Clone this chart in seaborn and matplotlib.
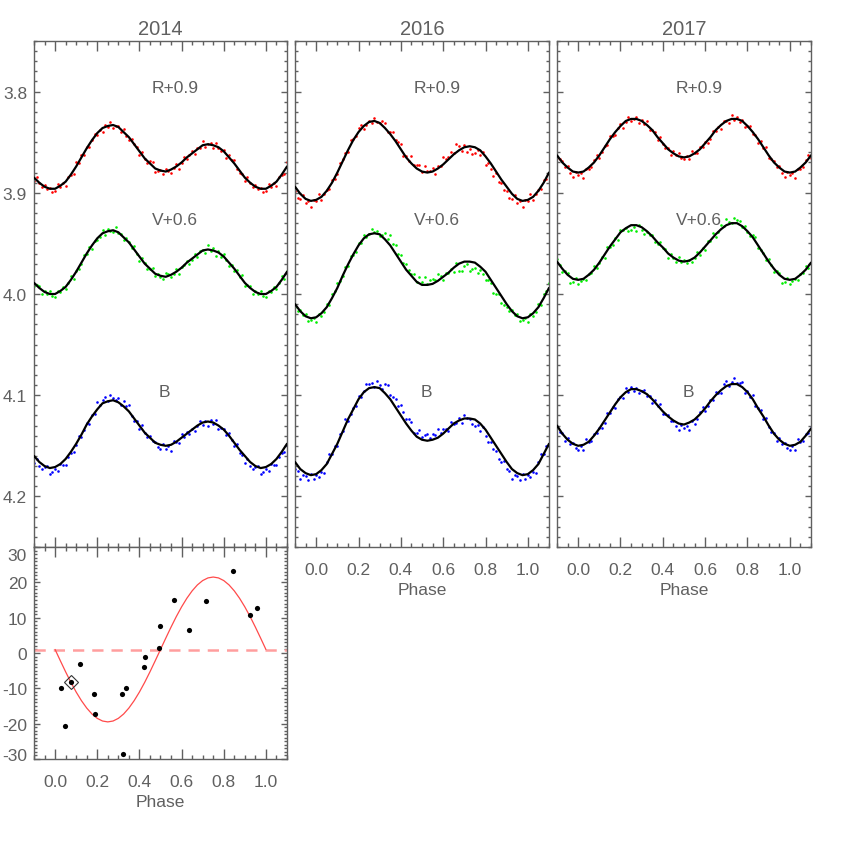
import numpy as np
import pandas as pd
import matplotlib
matplotlib.use("Agg")
import matplotlib.pyplot as plt
import seaborn as sns
from matplotlib.ticker import MultipleLocator, FormatStrFormatter
from matplotlib.transforms import offset_copy

# ---------------- data ----------------
YEARS = ["2014", "2016", "2017"]
BAND_LABELS = ["R+0.9", "V+0.6", "B"]

CURVE_PHASE = [0.000, 0.025, 0.050, 0.075, 0.100, 0.125, 0.150, 0.175, 0.200, 0.225,
               0.250, 0.275, 0.300, 0.325, 0.350, 0.375, 0.400, 0.425, 0.450, 0.475,
               0.500, 0.525, 0.550, 0.575, 0.600, 0.625, 0.650, 0.675, 0.700, 0.725,
               0.750, 0.775, 0.800, 0.825, 0.850, 0.875, 0.900, 0.925, 0.950, 0.975]

OBS_PHASE = [0.0000, 0.0125, 0.0250, 0.0375, 0.0500, 0.0625, 0.0750, 0.0875, 0.1000, 0.1125,
             0.1250, 0.1375, 0.1500, 0.1625, 0.1750, 0.1875, 0.2000, 0.2125, 0.2250, 0.2375,
             0.2500, 0.2625, 0.2750, 0.2875, 0.3000, 0.3125, 0.3250, 0.3375, 0.3500, 0.3625,
             0.3750, 0.3875, 0.4000, 0.4125, 0.4250, 0.4375, 0.4500, 0.4625, 0.4750, 0.4875,
             0.5000, 0.5125, 0.5250, 0.5375, 0.5500, 0.5625, 0.5750, 0.5875, 0.6000, 0.6125,
             0.6250, 0.6375, 0.6500, 0.6625, 0.6750, 0.6875, 0.7000, 0.7125, 0.7250, 0.7375,
             0.7500, 0.7625, 0.7750, 0.7875, 0.8000, 0.8125, 0.8250, 0.8375, 0.8500, 0.8625,
             0.8750, 0.8875, 0.9000, 0.9125, 0.9250, 0.9375, 0.9500, 0.9625, 0.9750, 0.9875]

# fitted light curves (magnitudes, offsets included)
FIT_R_2014 = [3.896, 3.893, 3.889, 3.882, 3.874, 3.865, 3.856, 3.848, 3.841, 3.836,
              3.834, 3.833, 3.835, 3.840, 3.845, 3.852, 3.859, 3.866, 3.871, 3.876,
              3.878, 3.879, 3.877, 3.874, 3.870, 3.865, 3.861, 3.857, 3.853, 3.852,
              3.853, 3.855, 3.859, 3.865, 3.871, 3.878, 3.885, 3.890, 3.894, 3.896]
FIT_V_2014 = [4.000, 3.997, 3.993, 3.986, 3.978, 3.969, 3.960, 3.952, 3.945, 3.940,
              3.938, 3.937, 3.939, 3.944, 3.949, 3.956, 3.963, 3.970, 3.975, 3.980,
              3.982, 3.983, 3.981, 3.978, 3.974, 3.969, 3.965, 3.961, 3.957, 3.956,
              3.957, 3.959, 3.963, 3.969, 3.975, 3.982, 3.989, 3.994, 3.998, 4.000]
FIT_B_2014 = [4.171, 4.168, 4.163, 4.156, 4.148, 4.139, 4.129, 4.121, 4.114, 4.108,
              4.106, 4.105, 4.107, 4.111, 4.116, 4.123, 4.130, 4.137, 4.142, 4.147,
              4.149, 4.150, 4.149, 4.146, 4.142, 4.138, 4.134, 4.130, 4.127, 4.126,
              4.127, 4.130, 4.134, 4.140, 4.147, 4.154, 4.160, 4.166, 4.170, 4.172]
FIT_R_2016 = [3.907, 3.904, 3.898, 3.890, 3.880, 3.869, 3.858, 3.848, 3.840, 3.834,
              3.830, 3.829, 3.831, 3.836, 3.842, 3.849, 3.857, 3.865, 3.871, 3.876,
              3.879, 3.880, 3.879, 3.876, 3.872, 3.867, 3.862, 3.858, 3.855, 3.854,
              3.855, 3.858, 3.864, 3.871, 3.879, 3.887, 3.894, 3.901, 3.906, 3.908]
FIT_V_2016 = [4.023, 4.019, 4.013, 4.004, 3.994, 3.982, 3.971, 3.961, 3.952, 3.945,
              3.941, 3.940, 3.941, 3.946, 3.952, 3.960, 3.968, 3.976, 3.982, 3.988,
              3.991, 3.991, 3.990, 3.987, 3.983, 3.979, 3.974, 3.970, 3.968, 3.968,
              3.969, 3.973, 3.978, 3.986, 3.994, 4.002, 4.010, 4.017, 4.022, 4.024]
FIT_B_2016 = [4.178, 4.174, 4.168, 4.158, 4.148, 4.136, 4.124, 4.114, 4.104, 4.097,
              4.093, 4.092, 4.093, 4.098, 4.104, 4.112, 4.120, 4.128, 4.135, 4.141,
              4.144, 4.145, 4.144, 4.142, 4.138, 4.133, 4.128, 4.125, 4.123, 4.123,
              4.124, 4.128, 4.134, 4.142, 4.150, 4.158, 4.166, 4.173, 4.177, 4.179]
FIT_R_2017 = [3.880, 3.879, 3.875, 3.870, 3.863, 3.855, 3.847, 3.840, 3.834, 3.829,
              3.827, 3.827, 3.829, 3.833, 3.838, 3.845, 3.851, 3.857, 3.861, 3.864,
              3.865, 3.864, 3.861, 3.857, 3.851, 3.845, 3.838, 3.833, 3.829, 3.827,
              3.827, 3.829, 3.834, 3.840, 3.847, 3.855, 3.863, 3.870, 3.875, 3.879]
FIT_V_2017 = [3.986, 3.985, 3.981, 3.976, 3.969, 3.961, 3.953, 3.946, 3.939, 3.935,
              3.932, 3.932, 3.934, 3.938, 3.943, 3.949, 3.954, 3.960, 3.964, 3.967,
              3.968, 3.967, 3.964, 3.959, 3.953, 3.947, 3.941, 3.936, 3.932, 3.930,
              3.930, 3.933, 3.938, 3.944, 3.952, 3.960, 3.968, 3.975, 3.981, 3.985]
FIT_B_2017 = [4.150, 4.149, 4.146, 4.140, 4.133, 4.125, 4.117, 4.109, 4.102, 4.097,
              4.094, 4.094, 4.096, 4.099, 4.104, 4.110, 4.116, 4.121, 4.125, 4.128,
              4.129, 4.127, 4.124, 4.119, 4.113, 4.106, 4.100, 4.095, 4.091, 4.089,
              4.089, 4.092, 4.097, 4.104, 4.113, 4.121, 4.130, 4.138, 4.144, 4.148]

# observed photometry (magnitudes, offsets included)
OBS_R_2014 = [3.898, 3.891, 3.894, 3.890, 3.893, 3.884, 3.882, 3.881, 3.870, 3.871,
              3.863, 3.863, 3.855, 3.855, 3.848, 3.842, 3.843, 3.838, 3.840, 3.833,
              3.835, 3.830, 3.836, 3.834, 3.834, 3.840, 3.837, 3.844, 3.848, 3.847,
              3.852, 3.855, 3.863, 3.860, 3.867, 3.871, 3.869, 3.870, 3.879, 3.878,
              3.877, 3.881, 3.876, 3.878, 3.880, 3.875, 3.872, 3.876, 3.871, 3.865,
              3.867, 3.863, 3.859, 3.862, 3.856, 3.856, 3.849, 3.855, 3.852, 3.851,
              3.856, 3.851, 3.856, 3.859, 3.858, 3.866, 3.863, 3.868, 3.868, 3.876,
              3.880, 3.881, 3.888, 3.884, 3.890, 3.894, 3.892, 3.896, 3.895, 3.899]
OBS_V_2014 = [4.003, 3.9975, 3.998, 3.993, 3.995, 3.9895, 3.982, 3.985, 3.977, 3.9755,
              3.970, 3.9615, 3.960, 3.954, 3.956, 3.9475, 3.947, 3.9435, 3.937, 3.942,
              3.936, 3.9375, 3.939, 3.934, 3.940, 3.9405, 3.947, 3.9445, 3.949, 3.9545,
              3.953, 3.9605, 3.967, 3.9645, 3.969, 3.9755, 3.975, 3.9745, 3.982, 3.980,
              3.983, 3.9855, 3.979, 3.980, 3.983, 3.9805, 3.975, 3.980, 3.973, 3.9715,
              3.967, 3.970, 3.966, 3.960, 3.963, 3.958, 3.957, 3.9595, 3.952, 3.9575,
              3.955, 3.962, 3.958, 3.963, 3.960, 3.966, 3.972, 3.971, 3.977, 3.9765,
              3.983, 3.9815, 3.992, 3.9915, 3.992, 4.000, 3.997, 4.000, 3.997, 4.002]
OBS_B_2014 = [4.173, 4.1745, 4.168, 4.1685, 4.169, 4.1615, 4.157, 4.156, 4.149, 4.1405,
              4.141, 4.134, 4.127, 4.128, 4.120, 4.1185, 4.107, 4.110, 4.105, 4.102,
              4.106, 4.0995, 4.103, 4.105, 4.103, 4.110, 4.106, 4.1105, 4.110, 4.1205,
              4.125, 4.1255, 4.133, 4.1295, 4.137, 4.1415, 4.140, 4.1455, 4.146, 4.151,
              4.153, 4.1485, 4.153, 4.1505, 4.155, 4.1455, 4.146, 4.147, 4.138, 4.141,
              4.136, 4.138, 4.133, 4.135, 4.130, 4.1255, 4.129, 4.1255, 4.130, 4.1245,
              4.128, 4.1245, 4.133, 4.132, 4.133, 4.139, 4.137, 4.1445, 4.150, 4.1485,
              4.157, 4.159, 4.167, 4.163, 4.170, 4.173, 4.171, 4.170, 4.178, 4.1755]
OBS_R_2016 = [3.908, 3.9015, 3.907, 3.901, 3.897, 3.896, 3.887, 3.886, 3.881, 3.8705,
              3.867, 3.8605, 3.860, 3.848, 3.847, 3.844, 3.836, 3.833, 3.837, 3.833,
              3.829, 3.8315, 3.826, 3.830, 3.831, 3.8295, 3.831, 3.840, 3.840, 3.8395,
              3.848, 3.850, 3.852, 3.864, 3.864, 3.869, 3.864, 3.8725, 3.873, 3.8725,
              3.879, 3.8735, 3.878, 3.8785, 3.875, 3.8815, 3.874, 3.874, 3.865, 3.8665,
              3.865, 3.8595, 3.861, 3.852, 3.854, 3.8585, 3.853, 3.8595, 3.857, 3.8615,
              3.861, 3.8575, 3.863, 3.860, 3.873, 3.8705, 3.876, 3.883, 3.880, 3.889,
              3.890, 3.8975, 3.898, 3.9055, 3.906, 3.9025, 3.910, 3.908, 3.914, 3.9075]
OBS_V_2016 = [4.028, 4.020, 4.022, 4.018, 4.010, 4.0105, 4.000, 3.997, 3.989, 3.987,
              3.982, 3.9735, 3.972, 3.962, 3.961, 3.9585, 3.950, 3.9495, 3.942, 3.944,
              3.941, 3.9355, 3.939, 3.9375, 3.943, 3.9415, 3.940, 3.946, 3.942, 3.951,
              3.952, 3.960, 3.961, 3.969, 3.970, 3.976, 3.980, 3.980, 3.988, 3.9835,
              3.988, 3.983, 3.990, 3.9865, 3.985, 3.9865, 3.980, 3.982, 3.986, 3.979,
              3.979, 3.9755, 3.978, 3.969, 3.977, 3.977, 3.972, 3.970, 3.977, 3.9755,
              3.974, 3.979, 3.976, 3.9805, 3.986, 3.986, 3.989, 3.999, 4.000, 4.000,
              4.009, 4.011, 4.013, 4.0165, 4.016, 4.0205, 4.020, 4.027, 4.026, 4.0235]
OBS_B_2016 = [4.179, 4.181, 4.176, 4.177, 4.166, 4.158, 4.158, 4.150, 4.150, 4.138,
              4.135, 4.124, 4.125, 4.119, 4.113, 4.111, 4.101, 4.1015, 4.096, 4.089,
              4.089, 4.0875, 4.092, 4.0855, 4.090, 4.0935, 4.089, 4.090, 4.100, 4.102,
              4.104, 4.111, 4.110, 4.117, 4.124, 4.1235, 4.126, 4.137, 4.137, 4.1345,
              4.141, 4.1395, 4.138, 4.1425, 4.138, 4.139, 4.133, 4.137, 4.133, 4.1335,
              4.135, 4.1265, 4.128, 4.1275, 4.123, 4.127, 4.120, 4.123, 4.124, 4.1285,
              4.130, 4.129, 4.135, 4.131, 4.140, 4.146, 4.146, 4.153, 4.155, 4.163,
              4.166, 4.165, 4.173, 4.1745, 4.183, 4.179, 4.180, 4.184, 4.178, 4.1825]
OBS_R_2017 = [3.882, 3.8805, 3.885, 3.876, 3.876, 3.8745, 3.868, 3.8625, 3.866, 3.860,
              3.854, 3.853, 3.844, 3.8435, 3.843, 3.836, 3.832, 3.8355, 3.830, 3.825,
              3.829, 3.827, 3.825, 3.831, 3.828, 3.832, 3.829, 3.8375, 3.838, 3.8395,
              3.848, 3.845, 3.852, 3.856, 3.856, 3.863, 3.859, 3.8625, 3.861, 3.8655,
              3.867, 3.8635, 3.867, 3.8585, 3.861, 3.861, 3.855, 3.855, 3.850, 3.851,
              3.847, 3.8385, 3.839, 3.8345, 3.837, 3.829, 3.829, 3.831, 3.823, 3.828,
              3.825, 3.830, 3.828, 3.8345, 3.834, 3.834, 3.842, 3.8425, 3.851, 3.849,
              3.856, 3.855, 3.866, 3.8665, 3.869, 3.8745, 3.874, 3.880, 3.884, 3.8795]
OBS_V_2017 = [3.990, 3.9875, 3.985, 3.986, 3.980, 3.9795, 3.972, 3.9745, 3.969, 3.963,
              3.964, 3.954, 3.954, 3.9515, 3.945, 3.9465, 3.937, 3.937, 3.935, 3.9375,
              3.937, 3.934, 3.938, 3.932, 3.937, 3.941, 3.939, 3.9415, 3.942, 3.949,
              3.951, 3.9485, 3.955, 3.956, 3.964, 3.960, 3.964, 3.9685, 3.963, 3.9685,
              3.966, 3.9695, 3.966, 3.9685, 3.964, 3.9585, 3.961, 3.955, 3.957, 3.948,
              3.948, 3.940, 3.944, 3.9385, 3.932, 3.933, 3.926, 3.929, 3.930, 3.925,
              3.927, 3.9275, 3.934, 3.9325, 3.939, 3.943, 3.942, 3.944, 3.955, 3.957,
              3.959, 3.966, 3.965, 3.9715, 3.978, 3.977, 3.979, 3.989, 3.988, 3.9845]
OBS_B_2017 = [4.154, 4.1505, 4.154, 4.1435, 4.146, 4.145, 4.138, 4.1375, 4.132, 4.132,
              4.127, 4.118, 4.118, 4.112, 4.113, 4.1035, 4.102, 4.1025, 4.093, 4.0965,
              4.092, 4.096, 4.093, 4.098, 4.096, 4.0945, 4.101, 4.1005, 4.108, 4.105,
              4.111, 4.109, 4.119, 4.1185, 4.120, 4.125, 4.125, 4.1305, 4.134, 4.1295,
              4.132, 4.130, 4.134, 4.1255, 4.128, 4.1235, 4.117, 4.112, 4.116, 4.1105,
              4.105, 4.105, 4.097, 4.0975, 4.098, 4.089, 4.086, 4.091, 4.087, 4.083,
              4.088, 4.0875, 4.087, 4.0975, 4.096, 4.1015, 4.100, 4.1105, 4.113, 4.115,
              4.124, 4.1225, 4.131, 4.136, 4.137, 4.145, 4.142, 4.148, 4.147, 4.152]

# radial velocities (bottom-left panel)
RV_CURVE_PHASE = [0.000, 0.025, 0.050, 0.075, 0.100, 0.125, 0.150, 0.175, 0.200, 0.225,
                  0.250, 0.275, 0.300, 0.325, 0.350, 0.375, 0.400, 0.425, 0.450, 0.475,
                  0.500, 0.525, 0.550, 0.575, 0.600, 0.625, 0.650, 0.675, 0.700, 0.725,
                  0.750, 0.775, 0.800, 0.825, 0.850, 0.875, 0.900, 0.925, 0.950, 0.975, 1.000]
RV_CURVE = [1.0, -2.2, -5.33, -8.31, -11.05, -13.49, -15.58, -17.27, -18.5, -19.25,
            -19.5, -19.25, -18.5, -17.27, -15.58, -13.49, -11.05, -8.31, -5.33, -2.2,
            1.0, 4.2, 7.33, 10.31, 13.05, 15.49, 17.58, 19.27, 20.5, 21.25,
            21.5, 21.25, 20.5, 19.27, 17.58, 15.49, 13.05, 10.31, 7.33, 4.2, 1.0]
RV_GAMMA = 0.8
RV_PHASE = [0.028, 0.047, 0.074, 0.117, 0.183, 0.188, 0.319, 0.338, 0.324, 0.422,
            0.427, 0.494, 0.498, 0.565, 0.635, 0.714, 0.845, 0.926, 0.957]
RV_VALUE = [-9.8, -20.6, -8.3, -3.1, -11.7, -17.2, -11.7, -9.9, -28.7, -4.1,
            -1.1, 1.3, 7.7, 15.1, 6.5, 14.6, 23.1, 10.7, 12.7]
RV_MARKED = 2  # index of the highlighted (diamond) measurement

FITS = {"2014": [FIT_R_2014, FIT_V_2014, FIT_B_2014],
        "2016": [FIT_R_2016, FIT_V_2016, FIT_B_2016],
        "2017": [FIT_R_2017, FIT_V_2017, FIT_B_2017]}
OBS = {"2014": [OBS_R_2014, OBS_V_2014, OBS_B_2014],
       "2016": [OBS_R_2016, OBS_V_2016, OBS_B_2016],
       "2017": [OBS_R_2017, OBS_V_2017, OBS_B_2017]}

# ---------------- style ----------------
sns.set_style("ticks")
GREY = "#606060"
plt.rcParams["font.family"] = ["Liberation Sans", "DejaVu Sans"]
plt.rcParams.update({
    "axes.edgecolor": GREY, "axes.linewidth": 1.0,
    "xtick.color": GREY, "ytick.color": GREY,
    "xtick.direction": "in", "ytick.direction": "in",
    "xtick.top": True, "ytick.right": True,
    "xtick.major.size": 7.0, "xtick.minor.size": 3.2,
    "ytick.major.size": 4.5, "ytick.minor.size": 2.2,
    "xtick.major.width": 1.0, "xtick.minor.width": 1.0,
    "ytick.major.width": 1.0, "ytick.minor.width": 1.0,
    "text.color": GREY, "axes.labelcolor": GREY,
    "axes.unicode_minus": False,
})
BAND_COLORS = ["#ff0000", "#00ee00", "#0000ff"]
LABEL_POS = [(0.57, 3.796), (0.57, 3.926), (0.52, 4.096)]


def wrap(phase, values, lo=-0.1, hi=1.1):
    p = np.asarray(phase, dtype=float)
    v = np.asarray(values, dtype=float)
    P = np.concatenate([p - 1.0, p, p + 1.0])
    V = np.concatenate([v, v, v])
    m = (P >= lo - 1e-9) & (P <= hi + 1e-9)
    order = np.argsort(P[m], kind="stable")
    return pd.DataFrame({"phase": P[m][order], "mag": V[m][order]})


def style_axes(ax, show_x, show_y):
    ax.set_xlim(-0.1, 1.1)
    ax.xaxis.set_major_locator(MultipleLocator(0.2))
    ax.xaxis.set_minor_locator(MultipleLocator(0.05))
    ax.xaxis.set_major_formatter(FormatStrFormatter("%.1f"))
    ax.tick_params(which="both", direction="in", top=True, right=True,
                   bottom=True, left=True, labelsize=12.5, width=1.0, color=GREY)
    ax.tick_params(axis="x", which="major", length=7.0, pad=10.5)
    ax.tick_params(axis="x", which="minor", length=3.2)
    ax.tick_params(axis="y", which="major", length=4.5, pad=5)
    ax.tick_params(axis="y", which="minor", length=2.2)
    ax.tick_params(labelbottom=show_x, labelleft=show_y, labeltop=False, labelright=False)
    for s in ax.spines.values():
        s.set_visible(True)
        s.set_color(GREY)
        s.set_linewidth(1.0)
    ax.set_xlabel("")
    ax.set_ylabel("")


fig = plt.figure(figsize=(8.45, 8.45), dpi=100)
F = 845.0
lefts = [34, 295, 557]
widths = [253, 254, 254]
for i, year in enumerate(YEARS):
    ax = fig.add_axes([lefts[i] / F, 1 - 548 / F, widths[i] / F, 506 / F])
    for b in range(3):
        dobs = wrap(OBS_PHASE, OBS[year][b])
        sns.scatterplot(data=dobs, x="phase", y="mag", ax=ax, color=BAND_COLORS[b],
                        s=3.5, marker="o", linewidth=0, legend=False, zorder=2)
        dfit = wrap(CURVE_PHASE, FITS[year][b])
        sns.lineplot(data=dfit, x="phase", y="mag", ax=ax, color="black", lw=1.6,
                     estimator=None, sort=False, zorder=3)
        ax.text(LABEL_POS[b][0], LABEL_POS[b][1], BAND_LABELS[b], ha="center",
                va="center", fontsize=12.5, color=GREY, zorder=5)
    ax.set_ylim(4.25, 3.75)
    ax.yaxis.set_major_locator(MultipleLocator(0.1))
    ax.yaxis.set_minor_locator(MultipleLocator(0.01))
    ax.yaxis.set_major_formatter(FormatStrFormatter("%.1f"))
    style_axes(ax, show_x=(i > 0), show_y=(i == 0))
    ax.set_title(year, fontsize=14.5, color=GREY, pad=5)
    if i > 0:
        ax.set_xlabel("Phase", fontsize=12.5, labelpad=4)

# radial-velocity panel
axr = fig.add_axes([34 / F, 1 - 760 / F, 253 / F, 212 / F])
axr.axhline(RV_GAMMA, color="#ff9e9e", lw=1.8, dashes=(4.5, 3.2), zorder=1)
sns.lineplot(x=RV_CURVE_PHASE, y=RV_CURVE, ax=axr, color="#ff4a4a", lw=0.9,
             estimator=None, sort=False, zorder=2)
sns.scatterplot(x=RV_PHASE, y=RV_VALUE, ax=axr, color="black", s=14, linewidth=0,
                legend=False, zorder=4)
axr.plot([RV_PHASE[RV_MARKED]], [RV_VALUE[RV_MARKED]], marker="D", ms=7.5,
         mfc="none", mec="#333333", mew=0.8, ls="none", zorder=5)
axr.set_ylim(-30, 30)
axr.set_yticks([-30, -20, -10, 0, 10, 20, 30])
axr.set_yticklabels(["", "-20", "-10", "0", "10", "20", ""])
axr.yaxis.set_minor_locator(MultipleLocator(1))
style_axes(axr, show_x=True, show_y=True)
axr.set_xlabel("Phase", fontsize=12.5, labelpad=4)
# edge labels drawn slightly inside the frame, as in the original
tr_top = offset_copy(axr.get_yaxis_transform(), fig=fig, x=-5, y=-6, units="points")
tr_bot = offset_copy(axr.get_yaxis_transform(), fig=fig, x=-5, y=2.5, units="points")
axr.text(0, 30, "30", transform=tr_top, ha="right", va="center", fontsize=12.5, color=GREY)
axr.text(0, -30, "-30", transform=tr_bot, ha="right", va="center", fontsize=12.5, color=GREY)

fig.savefig("out.png", dpi=100)
